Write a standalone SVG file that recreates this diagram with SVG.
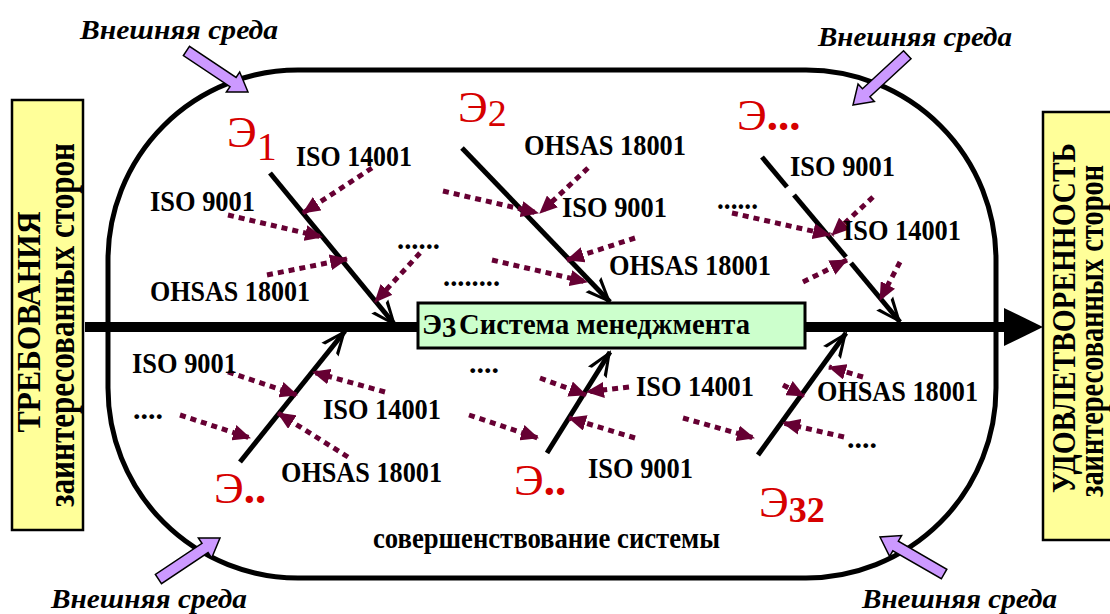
<svg xmlns="http://www.w3.org/2000/svg" width="1110" height="614" viewBox="0 0 1110 614">
<style>
text{font-family:"Times New Roman","Liberation Serif","DejaVu Serif",serif}
.lbl{font-weight:bold;font-size:29px;fill:#000}
.env{font-weight:bold;font-style:italic;font-size:27px;fill:#000}
.red{font-size:45px;fill:#D60000}
.side{font-weight:bold;fill:#000}
.ybox{fill:#FFFF99;stroke:#000;stroke-width:2.5}
.bone{stroke:#000;stroke-width:5;fill:none}
.dot{stroke:#660033;stroke-width:5;stroke-dasharray:6 5;fill:none;marker-end:url(#dh)}
.purple{fill:#CC99FF;stroke:#000;stroke-width:1.5;stroke-linejoin:miter}
</style>
<defs>
<marker id="dh" viewBox="0 0 18 16" refX="17" refY="8" markerWidth="18" markerHeight="16" markerUnits="userSpaceOnUse" orient="auto">
<path d="M0,0 L18,8 L0,16 Z" fill="#660033"/>
</marker>
<marker id="bh" markerUnits="userSpaceOnUse" markerWidth="40" markerHeight="40" refX="0" refY="0" orient="auto" overflow="visible">
<path d="M2,0 L-24,-11 L-23,-7 L-5,0 L-23,7 L-24,11 Z" fill="#000"/>
</marker>
<path id="pa" d="M0,0 L-18,-12 L-18,-5.5 L-74,-5.5 L-74,5.5 L-18,5.5 L-18,12 Z"/>
</defs>
<rect width="1110" height="614" fill="#fff"/>

<g id="left-box">
<rect class="ybox" x="12" y="100" width="71" height="430"/>
<text class="side" font-size="33" text-anchor="middle" textLength="221" lengthAdjust="spacingAndGlyphs" transform="translate(40,322) rotate(-90)">ТРЕБОВАНИЯ</text>
<text class="side" font-size="38" text-anchor="middle" textLength="364" lengthAdjust="spacingAndGlyphs" transform="translate(74,325) rotate(-90)">заинтересованных сторон</text>
</g>

<g id="right-box">
<rect class="ybox" x="1043" y="112" width="80" height="428"/>
<text class="side" font-size="34" text-anchor="middle" textLength="350" lengthAdjust="spacingAndGlyphs" transform="translate(1075,318) rotate(-90)">УДОВЛЕТВОРЕННОСТЬ</text>
<text class="side" font-size="36" text-anchor="middle" textLength="332" lengthAdjust="spacingAndGlyphs" transform="translate(1103,331) rotate(-90)">заинтересованных сторон</text>
</g>

<g id="boundary">
<rect x="108" y="70" width="888" height="508" rx="190" ry="190" fill="none" stroke="#000" stroke-width="5"/>
</g>

<g id="connectors">
<line x1="85" y1="327" x2="1008" y2="327" stroke="#000" stroke-width="10"/>
<polygon points="1004,308 1043,327 1004,346" fill="#000"/>

<line class="bone" x1="270" y1="173" x2="395" y2="325" marker-end="url(#bh)"/>
<line class="bone" x1="462" y1="148" x2="610" y2="302" marker-end="url(#bh)"/>
<line class="bone" x1="762" y1="157" x2="787" y2="187"/>
<line class="bone" x1="794" y1="195" x2="846" y2="257"/>
<line class="bone" x1="851" y1="263" x2="900" y2="322" marker-end="url(#bh)"/>
<line class="bone" x1="240" y1="462" x2="345" y2="331" marker-end="url(#bh)"/>
<line class="bone" x1="547" y1="453" x2="610" y2="352" marker-end="url(#bh)"/>
<line class="bone" x1="758" y1="455" x2="846" y2="333" marker-end="url(#bh)"/>

<line class="dot" x1="372" y1="168" x2="303" y2="213"/>
<line class="dot" x1="228" y1="215" x2="322" y2="237"/>
<line class="dot" x1="267" y1="275" x2="347" y2="259"/>
<line class="dot" x1="420" y1="253" x2="375" y2="302"/>
<line class="dot" x1="443" y1="191" x2="538" y2="213"/>
<line class="dot" x1="588" y1="168" x2="540" y2="213"/>
<line class="dot" x1="635" y1="238" x2="567" y2="260"/>
<line class="dot" x1="492" y1="260" x2="587" y2="282"/>
<line class="dot" x1="732" y1="213" x2="830" y2="235"/>
<line class="dot" x1="873" y1="197" x2="832" y2="235"/>
<line class="dot" x1="803" y1="282" x2="847" y2="260"/>
<line class="dot" x1="900" y1="262" x2="880" y2="300"/>

<line class="dot" x1="228" y1="372" x2="297" y2="395"/>
<line class="dot" x1="385" y1="392" x2="313" y2="372"/>
<line class="dot" x1="180" y1="415" x2="250" y2="438"/>
<line class="dot" x1="348" y1="457" x2="278" y2="413"/>
<line class="dot" x1="540" y1="378" x2="586" y2="395"/>
<line class="dot" x1="629" y1="387" x2="587" y2="392"/>
<line class="dot" x1="469" y1="415" x2="538" y2="438"/>
<line class="dot" x1="635" y1="438" x2="569" y2="418"/>
<line class="dot" x1="783" y1="385" x2="804" y2="396"/>
<line class="dot" x1="863" y1="377" x2="829" y2="367"/>
<line class="dot" x1="683" y1="418" x2="754" y2="438"/>
<line class="dot" x1="844" y1="437" x2="783" y2="423"/>
</g>

<g id="system">
<rect x="418" y="303" width="387" height="45" fill="#CCFFCC" stroke="#000" stroke-width="3"/>
<text class="lbl" font-size="30" x="422" y="334" textLength="20" lengthAdjust="spacingAndGlyphs">Э</text>
<text class="lbl" font-size="18" x="442" y="337">3</text>
<text class="lbl" font-size="30" x="459" y="334" textLength="291" lengthAdjust="spacingAndGlyphs">Система менеджмента</text>
</g>

<g id="e1">
<text class="red" x="227" y="147">Э<tspan font-size="40" dy="13">1</tspan></text>
<text class="lbl" x="296" y="166" textLength="116" lengthAdjust="spacingAndGlyphs">ISO 14001</text>
<text class="lbl" x="150" y="211" textLength="105" lengthAdjust="spacingAndGlyphs">ISO 9001</text>
<text class="lbl" x="150" y="301" textLength="160" lengthAdjust="spacingAndGlyphs">OHSAS 18001</text>
<text class="lbl" x="397" y="249" textLength="43" lengthAdjust="spacingAndGlyphs">......</text>
</g>

<g id="e2">
<text class="red" x="458" y="122">Э<tspan font-size="38" dy="4">2</tspan></text>
<text class="lbl" x="524" y="155" textLength="162" lengthAdjust="spacingAndGlyphs">OHSAS 18001</text>
<text class="lbl" x="562" y="217" textLength="105" lengthAdjust="spacingAndGlyphs">ISO 9001</text>
<text class="lbl" x="609" y="275" textLength="162" lengthAdjust="spacingAndGlyphs">OHSAS 18001</text>
<text class="lbl" x="443" y="286" textLength="57" lengthAdjust="spacingAndGlyphs">........</text>
</g>

<g id="e-top">
<text class="red" x="737" y="130">Э<tspan font-weight="bold">...</tspan></text>
<text class="lbl" x="790" y="176" textLength="105" lengthAdjust="spacingAndGlyphs">ISO 9001</text>
<text class="lbl" x="843" y="240" textLength="118" lengthAdjust="spacingAndGlyphs">ISO 14001</text>
<text class="lbl" x="717" y="209" textLength="41" lengthAdjust="spacingAndGlyphs">......</text>
</g>

<g id="e-bl">
<text class="red" x="214" y="503">Э<tspan font-weight="bold">..</tspan></text>
<text class="lbl" x="132" y="373" textLength="105" lengthAdjust="spacingAndGlyphs">ISO 9001</text>
<text class="lbl" x="133" y="419" textLength="30" lengthAdjust="spacingAndGlyphs">....</text>
<text class="lbl" x="323" y="419" textLength="118" lengthAdjust="spacingAndGlyphs">ISO 14001</text>
<text class="lbl" x="281" y="482" textLength="161" lengthAdjust="spacingAndGlyphs">OHSAS 18001</text>
</g>

<g id="e-bm">
<text class="red" x="514" y="495">Э<tspan font-weight="bold">..</tspan></text>
<text class="lbl" x="469" y="373" textLength="30" lengthAdjust="spacingAndGlyphs">....</text>
<text class="lbl" x="636" y="396" textLength="118" lengthAdjust="spacingAndGlyphs">ISO 14001</text>
<text class="lbl" x="588" y="478" textLength="105" lengthAdjust="spacingAndGlyphs">ISO 9001</text>
</g>

<g id="e32">
<text class="red" x="759" y="517">Э<tspan font-size="36" font-weight="bold" dy="5">32</tspan></text>
<text class="lbl" x="817" y="401" textLength="161" lengthAdjust="spacingAndGlyphs">OHSAS 18001</text>
<text class="lbl" x="847" y="448" textLength="30" lengthAdjust="spacingAndGlyphs">....</text>
</g>

<g id="improvement">
<text class="lbl" font-size="25" x="373" y="548" textLength="347" lengthAdjust="spacingAndGlyphs">совершенствование системы</text>
</g>

<g id="environment">
<use href="#pa" class="purple" transform="translate(248,92) rotate(33.7)"/>
<use href="#pa" class="purple" transform="translate(853,105) rotate(137.2)"/>
<use href="#pa" class="purple" transform="translate(220,538) rotate(-33.7)"/>
<use href="#pa" class="purple" transform="translate(880,537) rotate(210)"/>
<text class="env" x="80" y="39" textLength="198" lengthAdjust="spacingAndGlyphs">Внешняя среда</text>
<text class="env" x="818" y="46" textLength="194" lengthAdjust="spacingAndGlyphs">Внешняя среда</text>
<text class="env" x="51" y="608" textLength="196" lengthAdjust="spacingAndGlyphs">Внешняя среда</text>
<text class="env" x="862" y="608" textLength="195" lengthAdjust="spacingAndGlyphs">Внешняя среда</text>
</g>
</svg>
